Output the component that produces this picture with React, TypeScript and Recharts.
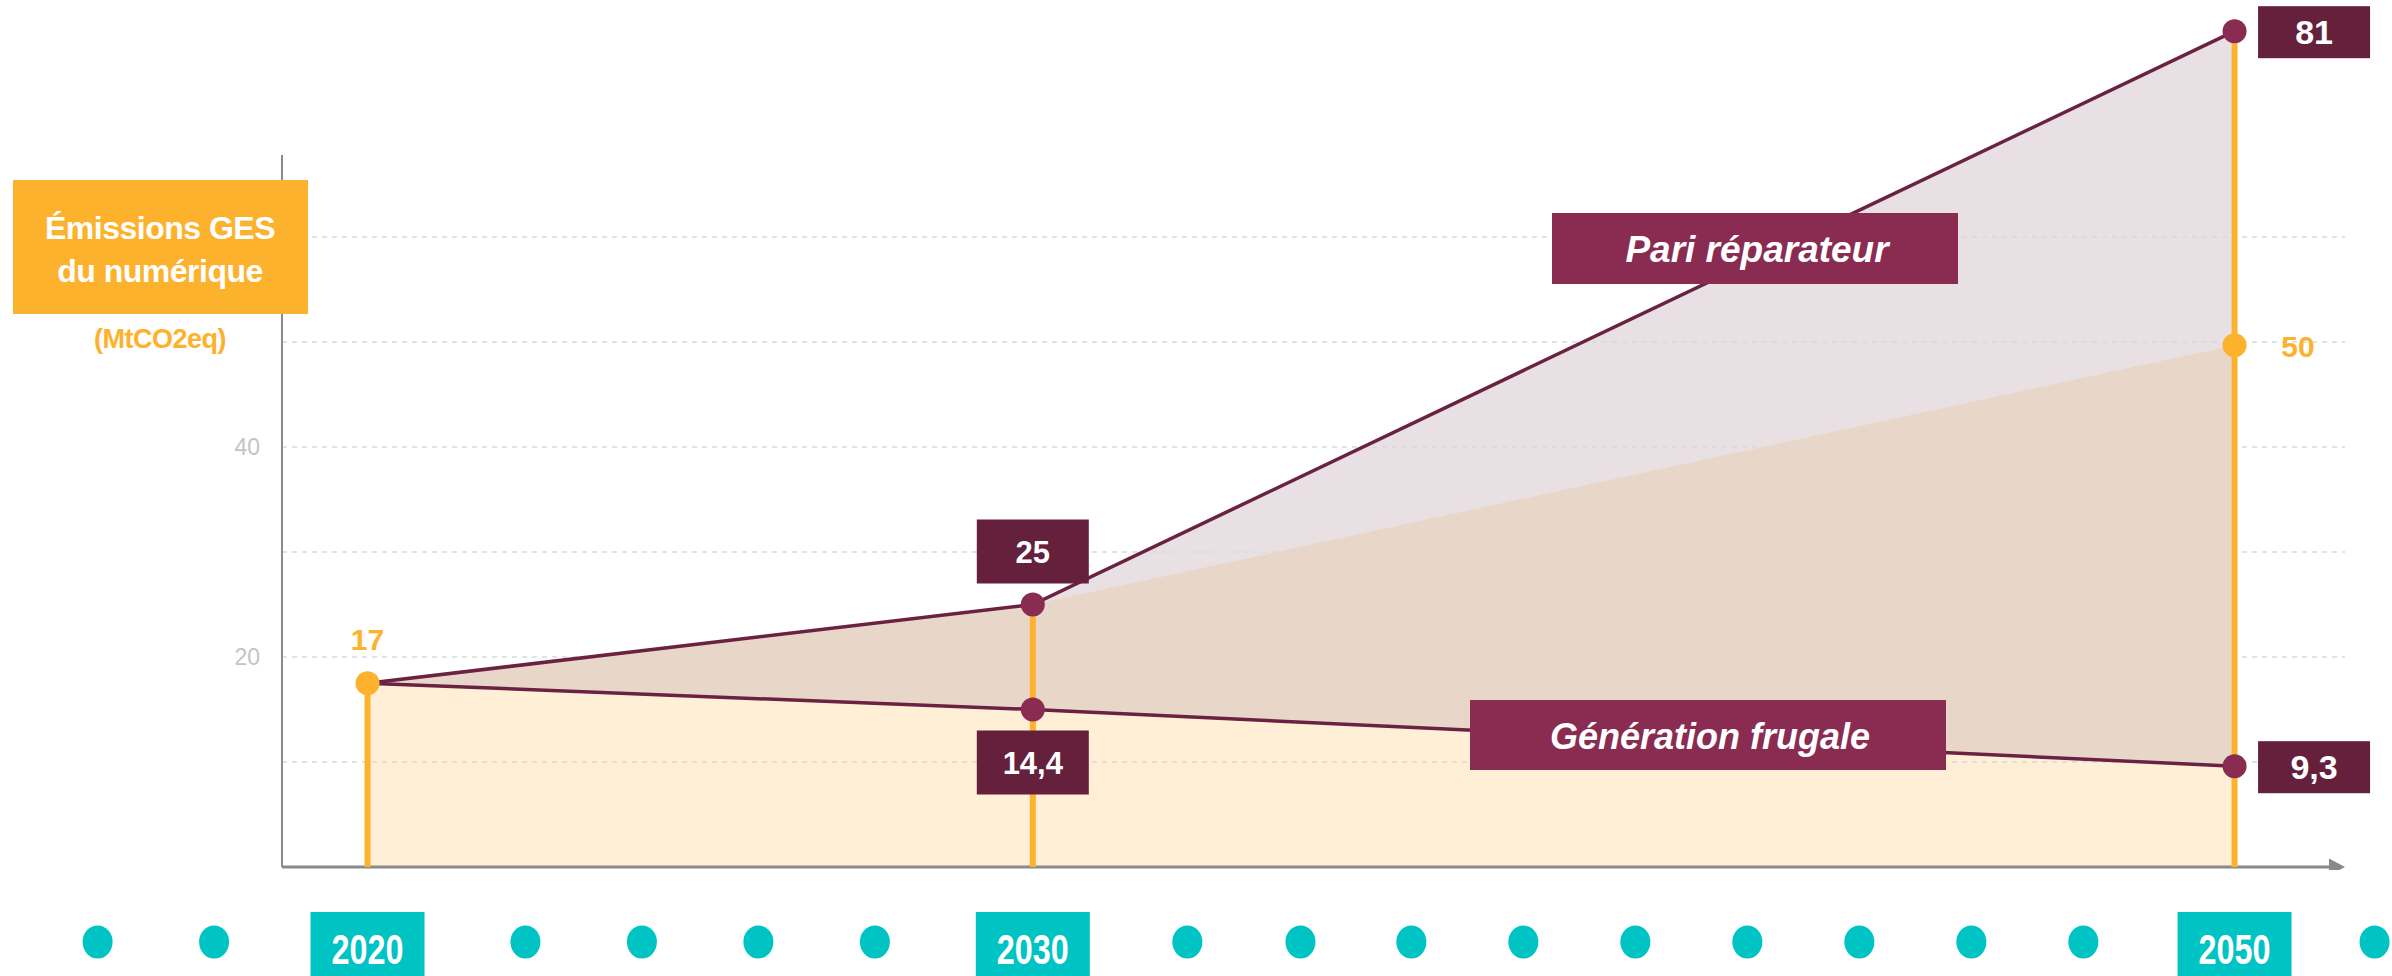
import React from 'react';
import {
    ComposedChart,
    Area,
    Line,
    XAxis,
    YAxis,
    ReferenceLine,
    ReferenceDot,
} from 'recharts';

// ─── data ──────────────────────────────────────────────────────────────
// x positions are in "timeline steps" (one step = gap between two teal dots)
const years = ['2020', '2030', '2050'];
const yearSteps = [2.41, 8.35, 19.08];
const pariValues = [17.5, 25, 79.6];
const pivotValues = [17.5, 25, 49.7];
const frugalValues = [17.5, 15, 9.6];
const pariLabels = ['', '25', '81'];
const pivotLabels = ['17', '', '50'];
const frugalLabels = ['', '14,4', '9,3'];

const yTicks = [10, 20, 30, 40, 50, 60];
const yTickLabels = ['', '20', '', '40', '', ''];

const timelineSteps = [0, 1.04, 2.41, 3.82, 4.86, 5.9, 6.94, 8.35, 9.73, 10.74, 11.73, 12.73, 13.73, 14.73, 15.73, 16.73, 17.73, 19.08, 20.33];
const timelineLabels = ['', '', '2020', '', '', '', '', '2030', '', '', '', '', '', '', '', '', '', '2050', ''];

// ─── layout / colours ──────────────────────────────────────────────────
const W = 2392;
const H = 976;
const STEP_PX = 112;
const T0_PX = 97.6;
const PLOT_LEFT = 282;
const PLOT_RIGHT = 2345;
const X_MIN = (PLOT_LEFT - T0_PX) / STEP_PX;
const X_MAX = (PLOT_RIGHT - T0_PX) / STEP_PX;
const T_MAX = 20.33;

const FONT = '"Liberation Sans", Arial, sans-serif';
const NARROW = '"Liberation Sans Narrow", "Liberation Sans", Arial, sans-serif';
const ORANGE = '#FDB22E';
const MAUVE_FILL = '#E9E0E4';
const TAN_FILL = '#E8D7C8';
const CREAM_FILL = '#FEEFD6';
const LINE = '#6B2142';
const DOT = '#8A2C51';
const BOX_DARK = '#65203C';
const BOX_LABEL = '#8A2C51';
const TEAL = '#00C3C4';

// ─── renderers ─────────────────────────────────────────────────────────
const makeDot = (labels: string[], color: string) => (props: any) => {
    const { cx, cy, index } = props;
    if (!labels[index] || cx == null) return <g key={`dot-${index}`} />;
    return <circle key={`dot-${index}`} cx={cx} cy={cy} r={12} fill={color} />;
};

const ValueBox = ({ x, y, w, h, text, size }: any) => (
    <g>
        <rect x={x} y={y} width={w} height={h} fill={BOX_DARK} />
        <text
            x={x + w / 2}
            y={y + h / 2 + size * 0.36}
            textAnchor="middle"
            fill="#fff"
            fontFamily={FONT}
            fontWeight="bold"
            fontSize={size}
        >
            {text}
        </text>
    </g>
);

const makeBoxLabel = (labels: string[], side: 'above' | 'below') => (props: any) => {
    const { x, y, index } = props;
    const text = labels[index];
    if (!text || x == null) return null;
    if (index === 2) {
        return <ValueBox x={x + 23.5} y={y - 25} w={112} h={52} text={text} size={34} />;
    }
    const top = side === 'above' ? y - 21 - 64 : y + 21;
    return <ValueBox x={x - 56} y={top} w={112} h={64} text={text} size={31} />;
};

const pivotLabel = (props: any) => {
    const { x, y, index } = props;
    const text = pivotLabels[index];
    if (!text || x == null) return null;
    const right = index === 2;
    return (
        <text
            x={right ? x + 63.5 : x}
            y={right ? y + 12 : y - 33}
            textAnchor="middle"
            fill={ORANGE}
            fontFamily={FONT}
            fontWeight="bold"
            fontSize={30}
        >
            {text}
        </text>
    );
};

const ArrowHead = (props: any) => {
    const { cx, cy } = props;
    return <polygon points={`${cx},${cy} ${cx - 16},${cy - 8.5} ${cx - 16},${cy + 8.5}`} fill="#888" />;
};

const renderTimelineTick = (props: any) => {
    const { x, y, payload } = props;
    const i = timelineSteps.indexOf(payload.value);
    const label = timelineLabels[i];
    if (label) {
        return (
            <g>
                <rect x={x - 57} y={y + 22} width={114} height={80} fill={TEAL} />
                <text
                    x={x}
                    y={y + 74}
                    textAnchor="middle"
                    fill="#fff"
                    fontFamily={NARROW}
                    fontWeight="bold"
                    fontSize={42}
                    textLength={72}
                    lengthAdjust="spacingAndGlyphs"
                >
                    {label}
                </text>
            </g>
        );
    }
    return <ellipse cx={x} cy={y + 52} rx={15} ry={16.5} fill={TEAL} />;
};

export default function App() {
    const rows = years.map((year, i) => ({
        year,
        step: yearSteps[i],
        pari: pariValues[i],
        pivot: pivotValues[i],
        frugal: frugalValues[i],
    }));
    const timeline = timelineSteps.map((step, i) => ({ step, label: timelineLabels[i] }));
    const stemTops = rows.map((r) => Math.max(r.pari, r.pivot, r.frugal));

    return (
        <div style={{ position: 'absolute', left: 0, top: 0, width: W, height: H, background: '#fff', overflow: 'hidden' }}>
            {/* main chart */}
            <div style={{ position: 'absolute', left: 0, top: 0 }}>
                <ComposedChart
                    width={W}
                    height={870}
                    data={rows}
                    margin={{ top: 27, right: W - PLOT_RIGHT, left: PLOT_LEFT - 100, bottom: 3 }}
                >
                    <XAxis dataKey="step" type="number" domain={[X_MIN, X_MAX]} hide />
                    <YAxis
                        type="number"
                        domain={[0, 80]}
                        ticks={yTicks}
                        interval={0}
                        width={100}
                        axisLine={false}
                        tickLine={false}
                        tickSize={0}
                        tickMargin={22}
                        tick={{ fill: '#c4c4c4', fontSize: 23, fontFamily: FONT }}
                        tickFormatter={(v: number) => yTickLabels[yTicks.indexOf(v)] ?? ''}
                    />

                    <Area type="linear" dataKey="pari" stroke="none" fill={MAUVE_FILL} fillOpacity={1} dot={false} activeDot={false} isAnimationActive={false} />
                    <Area type="linear" dataKey="pivot" stroke="none" fill={TAN_FILL} fillOpacity={1} dot={false} activeDot={false} isAnimationActive={false} />
                    <Area type="linear" dataKey="frugal" stroke="none" fill={CREAM_FILL} fillOpacity={1} dot={false} activeDot={false} isAnimationActive={false} />

                    {/* dashed grid, drawn over the areas */}
                    {yTicks.map((v) => (
                        <ReferenceLine key={`grid-${v}`} y={v} stroke="#d9d9d9" strokeDasharray="5 5" strokeWidth={1.5} />
                    ))}

                    {/* axes drawn by hand: y axis stops below the title, x axis ends in an arrow */}
                    <ReferenceLine segment={[{ x: X_MIN, y: 0 }, { x: X_MIN, y: 67.8 }]} stroke="#8a8a8a" strokeWidth={2} ifOverflow="visible" />
                    <ReferenceLine segment={[{ x: X_MIN, y: 0 }, { x: X_MAX - 0.1, y: 0 }]} stroke="#8a8a8a" strokeWidth={3} ifOverflow="visible" />
                    <ReferenceDot x={X_MAX} y={0} r={0} shape={ArrowHead} ifOverflow="visible" />

                    {rows.map((r, i) => (
                        <ReferenceLine
                            key={r.year}
                            segment={[{ x: r.step, y: 0 }, { x: r.step, y: stemTops[i] }]}
                            stroke={ORANGE}
                            strokeWidth={6}
                            ifOverflow="visible"
                        />
                    ))}

                    <Line type="linear" dataKey="pari" stroke={LINE} strokeWidth={3.5} dot={makeDot(pariLabels, DOT)} activeDot={false} label={makeBoxLabel(pariLabels, 'above')} isAnimationActive={false} />
                    <Line type="linear" dataKey="frugal" stroke={LINE} strokeWidth={3.5} dot={makeDot(frugalLabels, DOT)} activeDot={false} label={makeBoxLabel(frugalLabels, 'below')} isAnimationActive={false} />
                    <Line type="linear" dataKey="pivot" stroke="none" dot={makeDot(pivotLabels, ORANGE)} activeDot={false} label={pivotLabel} isAnimationActive={false} />
                </ComposedChart>
            </div>

            {/* timeline under the chart */}
            <div style={{ position: 'absolute', left: 0, top: 880 }}>
                <ComposedChart
                    width={W}
                    height={96}
                    data={timeline}
                    margin={{ top: 0, right: W - T0_PX - T_MAX * STEP_PX, left: T0_PX, bottom: 0 }}
                >
                    <XAxis
                        dataKey="step"
                        type="number"
                        domain={[0, T_MAX]}
                        ticks={timelineSteps}
                        interval={0}
                        axisLine={false}
                        tickLine={false}
                        tickSize={0}
                        tickMargin={0}
                        height={86}
                        tick={renderTimelineTick}
                    />
                    <YAxis hide domain={[0, 1]} />
                </ComposedChart>
            </div>

            {/* title and series labels */}
            <svg width={W} height={H} style={{ position: 'absolute', left: 0, top: 0, pointerEvents: 'none' }}>
                <rect x={13} y={180} width={295} height={134} fill={ORANGE} />
                <text x={160} y={239} textAnchor="middle" fill="#fff" fontFamily={FONT} fontWeight="bold" fontSize={32} letterSpacing={-0.5}>
                    Émissions GES
                </text>
                <text x={160} y={282} textAnchor="middle" fill="#fff" fontFamily={FONT} fontWeight="bold" fontSize={32} letterSpacing={-0.5}>
                    du numérique
                </text>
                <text x={160} y={348} textAnchor="middle" fill={ORANGE} fontFamily={FONT} fontWeight="bold" fontSize={27} letterSpacing={-0.5}>
                    (MtCO2eq)
                </text>

                <rect x={1552} y={213} width={406} height={71} fill={BOX_LABEL} />
                <text x={1757} y={262} textAnchor="middle" fill="#fff" fontFamily={FONT} fontWeight="bold" fontStyle="italic" fontSize={37}>
                    Pari réparateur
                </text>

                <rect x={1470} y={700} width={476} height={70} fill={BOX_LABEL} />
                <text x={1710} y={749} textAnchor="middle" fill="#fff" fontFamily={FONT} fontWeight="bold" fontStyle="italic" fontSize={36}>
                    Génération frugale
                </text>
            </svg>
        </div>
    );
}
